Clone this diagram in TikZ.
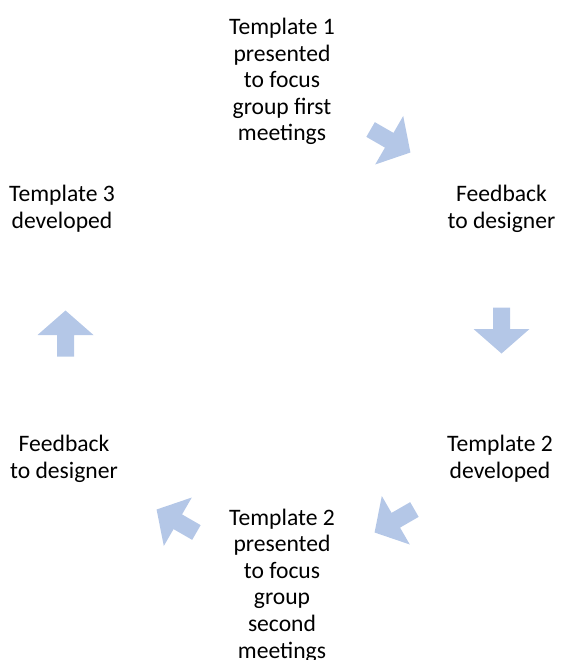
\documentclass[tikz,border=0pt]{standalone}
\usepackage{fontspec}
\setmainfont{Carlito}
\definecolor{arrowblue}{RGB}{180,199,231}
\begin{document}
\begin{tikzpicture}[x=1pt,y=-1pt,
  steptext/.style={align=center,inner sep=0pt,
    font=\fontsize{23.6}{26.6}\selectfont},
  cyclearrow/.pic={
    \fill[arrowblue] (-23,-8.5) -- (-1.5,-8.5) -- (-1.5,-28) -- (23,0)
      -- (-1.5,28) -- (-1.5,8.5) -- (-23,8.5) -- cycle;
  }]
\useasboundingbox (0,0) rectangle (560,660);

% cycle steps
\node[steptext] (t1)  at (282,81.5) {Template 1\\presented\\to focus\\group first\\meetings};
\node[steptext] (fb1) at (501.5,209) {Feedback\\to designer};
\node[steptext] (t2)  at (500,459) {Template 2\\developed};
\node[steptext] (t2p) at (282,585.5) {Template 2\\presented\\to focus\\group\\second\\meetings};
\node[steptext] (fb2) at (64,459) {Feedback\\to designer};
\node[steptext] (t3)  at (62,209) {Template 3\\developed};

% block arrows between the steps
\pic[rotate=-30]  at (390.5,141)   {cyclearrow};
\pic[rotate=-90]  at (501.5,330.5) {cyclearrow};
\pic[rotate=-150] at (394.5,521)   {cyclearrow};
\pic[rotate=150]  at (176.5,521)   {cyclearrow};
\pic[rotate=90]   at (65.5,333.5)  {cyclearrow};
\end{tikzpicture}
\end{document}
